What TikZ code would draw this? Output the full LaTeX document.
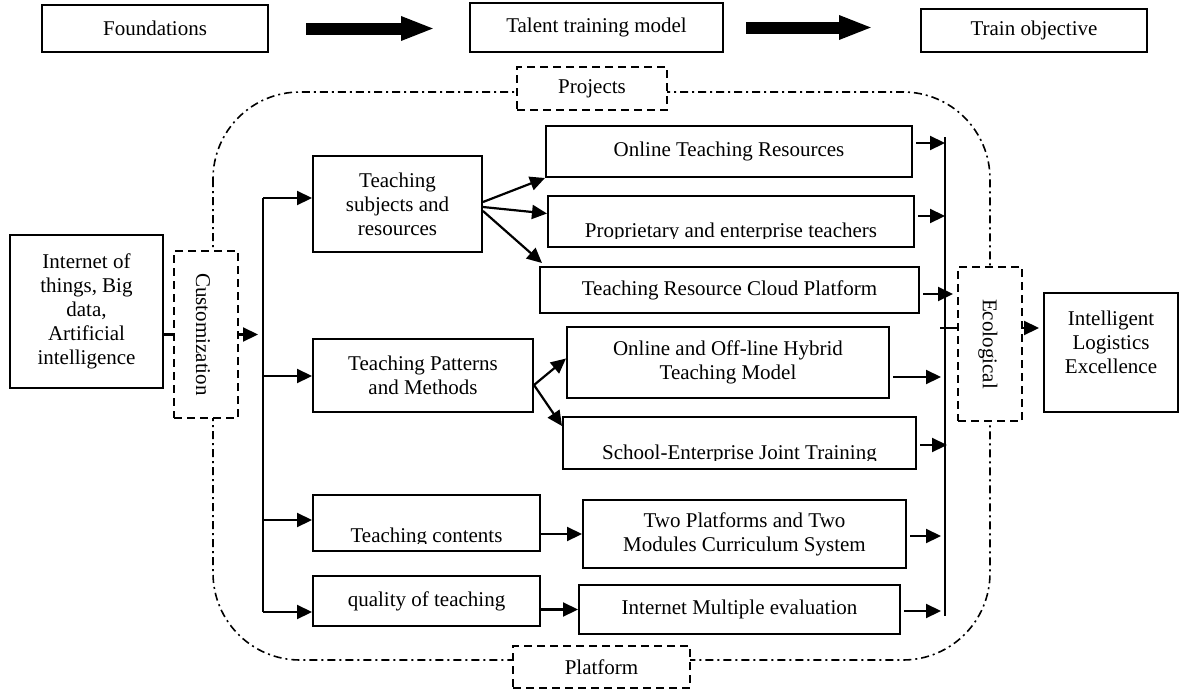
\documentclass[tikz,border=0pt]{standalone}
\usepackage{fontspec}
\setmainfont{Liberation Serif}
\usetikzlibrary{arrows.meta}

\tikzset{
  box/.style={draw, line width=1pt, fill=white, align=center, inner sep=2pt},
  tagbox/.style={draw, line width=0.9pt, dash pattern=on 4pt off 2.5pt, fill=white, inner sep=0pt},
  conn/.style={line width=1.1pt},
  arr/.style={conn, -{Triangle[length=7.5pt,width=7pt]}},
  bigarrow/.style={line width=6pt, -{Triangle[length=17pt,width=11pt]}},
  loopline/.style={line width=0.8pt, dash pattern=on 4pt off 2pt on 1pt off 2pt},
}

\begin{document}
\begin{tikzpicture}[x=0.5pt, y=-0.5pt, font=\fontsize{10.5}{12}\selectfont]
    \useasboundingbox (0,0) rectangle (1180,691);

    % top line: foundations -> model -> objective
    \node[box, minimum width=113pt, minimum height=23.5pt] (found) at (155,28.5) {Foundations};
    \node[box, minimum width=126.5pt, minimum height=24.5pt] (talent) at (596.5,27.5) {Talent training model};
    \node[box, minimum width=113pt, minimum height=21.5pt] (train) at (1034,30.5) {Train objective};
    \draw[bigarrow, shorten <=18.5pt, shorten >=17pt] (found.east) -- (found.east -| talent.west);
    \draw[bigarrow, shorten <=11pt, shorten >=23.5pt] (talent.east) -- (talent.east -| train.west);

    % ring round the model
    \draw[loopline, rounded corners=43.5pt] (213,92) rectangle (990,660);
    \node[tagbox, minimum width=75pt, minimum height=21.5pt] (projects) at (592,88.5) {Projects};
    \node[tagbox, minimum width=88.5pt, minimum height=21pt] (platform) at (601.5,667) {Platform};
    \node[tagbox, minimum width=32pt, minimum height=83.5pt] (custom) at (206,334.5) {};
    \node[rotate=-90] (customtext) at (203,334.5) {Customization};
    \node[tagbox, minimum width=32pt, minimum height=77pt] (eco) at (990,344) {};
    \node[rotate=-90] (ecotext) at (988,344) {Ecological};

    % inputs and outputs
    \node[box, minimum width=76.5pt, minimum height=76.5pt] (iot) at (86.5,311.5)
        {Internet of\\things, Big\\data,\\Artificial\\intelligence};
    \node[box, minimum width=67pt, minimum height=59.5pt] (intel) at (1111,352.5) {};
    \node[align=center] (inteltext) at ([yshift=5pt]intel.center) {Intelligent\\Logistics\\Excellence};

    % first level
    \node[box, minimum width=84.5pt, minimum height=48pt] (subj) at (397.5,204) {Teaching\\subjects and\\resources};
    \node[box, minimum width=110pt, minimum height=36.5pt] (patt) at (423,375.5) {Teaching Patterns\\and Methods};
    \node[box, minimum width=113.5pt, minimum height=28pt] (cont) at (426.5,523) {};
    \node[box, minimum width=113.5pt, minimum height=25pt] (qual) at (426.5,601) {quality of teaching};

    % second level
    \node[box, minimum width=183pt, minimum height=25.5pt] (online) at (729,151.5) {Online Teaching Resources};
    \node[box, minimum width=183pt, minimum height=25.5pt] (prop) at (731,221.5) {};
    \node[box, minimum width=189.5pt, minimum height=23pt] (cloud) at (729.5,290) {Teaching Resource Cloud Platform};
    \node[box, minimum width=161pt, minimum height=35.5pt] (hybrid) at (728,362.5) {Online and Off-line Hybrid\\Teaching Model};
    \node[box, minimum width=176.5pt, minimum height=26pt] (school) at (739.5,443) {};
    \node[box, minimum width=161.5pt, minimum height=34pt] (twoplat) at (744.5,534) {Two Platforms and Two\\Modules Curriculum System};
    \node[box, minimum width=160.5pt, minimum height=24.5pt] (inteval) at (739.5,609.5) {Internet Multiple evaluation};

    % texts sitting low in their frames
    \begin{scope}
        \clip (prop.north west) rectangle ([yshift=5pt]prop.south east);
        \node[anchor=base] (proptext) at ([yshift=5.5pt]prop.south) {Proprietary and enterprise teachers};
    \end{scope}
    \begin{scope}
        \clip (school.north west) rectangle ([yshift=5pt]school.south east);
        \node[anchor=base] (schooltext) at ([yshift=5.5pt]school.south) {School-Enterprise Joint Training};
    \end{scope}
    \begin{scope}
        \clip (cont.north west) rectangle ([yshift=4.5pt]cont.south east);
        \node[anchor=base] (conttext) at ([yshift=5pt]cont.south) {Teaching contents};
    \end{scope}

    % trunk
    \coordinate (tr1) at (263,198);
    \coordinate (tr2) at (263,376);
    \coordinate (tr3) at (263,520);
    \coordinate (tr4) at (263,612);
    \draw[conn] (iot.east |- custom.west) -- (custom.west);
    \draw[arr, shorten >=2.5pt] (custom.east) -- (custom.east -| tr1);
    \draw[conn] (tr1) -- (tr4);
    \foreach \t/\b in {tr1/subj, tr2/patt, tr3/cont, tr4/qual}
        \draw[arr] (\t) -- (\t -| \b.west);

    % fan out
    \draw[arr] ([yshift=1pt]subj.east) -- (online.south west);
    \draw[arr] ([yshift=-1.5pt]subj.east) -- ([yshift=4pt]prop.west);
    \draw[arr] ([yshift=-3.5pt]subj.east) -- ([xshift=1.5pt,yshift=1.5pt]cloud.north west);
    \draw[arr] ([yshift=-4.75pt]patt.east) -- ([yshift=2pt]hybrid.west);
    \draw[arr] ([yshift=-4.75pt]patt.east) -- ([yshift=-5pt]school.north west);
    \draw[arr] (cont.east |- twoplat.west) -- (twoplat.west);
    \draw[arr] (qual.east |- inteval.west) -- (inteval.west);

    % collector
    \coordinate (ctop) at (945,137);
    \coordinate (cbot) at (945,616);
    \draw[line width=0.8pt] (ctop) -- (cbot);
    \coordinate (c1) at (945,143);
    \coordinate (c2) at (945,216);
    \coordinate (c3) at (953,294);
    \coordinate (c4) at (941,377);
    \coordinate (c5) at (947,445);
    \coordinate (c6) at (941,536);
    \coordinate (c7) at (941,611);
    \foreach \b/\c in {online/c1, prop/c2, cloud/c3, hybrid/c4, school/c5, twoplat/c6, inteval/c7}
        \draw[arr, shorten <=1.5pt] (\b.east |- \c) -- (\c);

    \coordinate (c0) at (940,328);
    \draw[conn] (c0) -- (c0 -| eco.west);
    \draw[arr, shorten >=2pt] (eco.east |- c0) -- (intel.west |- c0);
\end{tikzpicture}
\end{document}
